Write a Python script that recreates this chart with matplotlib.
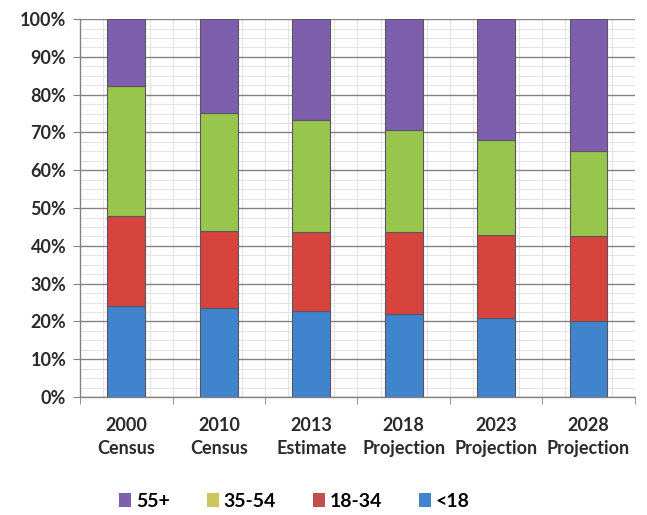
import numpy as np
import matplotlib.pyplot as plt
from matplotlib.patches import Patch
from matplotlib.ticker import FixedLocator, PercentFormatter

plt.rcParams['font.family'] = ['Lato', 'DejaVu Sans']

categories = ['2000\nCensus', '2010\nCensus', '2013\nEstimate',
              '2018\nProjection', '2023\nProjection', '2028\nProjection']

# share of population by age group, percent
under_18 = [24.0, 23.6, 22.7, 22.0, 21.0, 20.2]
age_18_34 = [23.9, 20.3, 21.0, 21.6, 21.9, 22.4]
age_35_54 = [34.4, 31.3, 29.7, 27.0, 25.1, 22.5]
age_55_up = [17.7, 24.8, 26.6, 29.4, 32.0, 34.9]

series = [('<18', under_18, '#3f84cc', '#3f84cc'),
          ('18-34', age_18_34, '#d6443d', '#c24e4e'),
          ('35-54', age_35_54, '#98c64c', '#cbc65e'),
          ('55+', age_55_up, '#7d5fae', '#7d5fae')]

fig = plt.figure(figsize=(6.47, 5.15), dpi=100)
ax = fig.add_axes([0.124, 0.229, 0.857, 0.734])

x = np.arange(len(categories))
bottom = np.zeros(len(categories))
for name, vals, col, _ in series:
    ax.bar(x, vals, width=0.41, bottom=bottom, color=col,
           edgecolor='#5a5560', linewidth=0.8, zorder=3)
    bottom += np.array(vals)

ax.set_xlim(-0.5, len(categories) - 0.5)
ax.set_ylim(0, 100)
ax.yaxis.set_major_locator(FixedLocator(np.arange(0, 101, 10)))
ax.yaxis.set_major_formatter(PercentFormatter(decimals=0))
ax.yaxis.set_minor_locator(FixedLocator(np.arange(0, 101, 2.5)))

ax.set_xticks(x)
ax.set_xticklabels(categories, fontsize=13, fontweight='bold', color='#2a2a2a',
                   linespacing=1.45)
ax.set_xticks(np.arange(-0.5, len(categories), 1), minor=True)
ax.tick_params(axis='x', which='major', length=0, pad=14)
ax.tick_params(axis='x', which='minor', length=5, color='#8a8080')
ax.tick_params(axis='y', which='major', length=5, color='#8a8080',
               labelsize=13, pad=5)
ax.tick_params(axis='y', which='minor', length=0)
for lab in ax.get_yticklabels():
    lab.set_fontweight('bold')
    lab.set_color('#2a2a2a')

ax.grid(axis='y', which='major', color='#8a8080', linewidth=1.0, zorder=1)
ax.grid(axis='y', which='minor', color='#e4e4e4', linewidth=0.8, zorder=0)
for xv in np.arange(-0.5, len(categories), 0.25):
    ax.axvline(xv, color='#e4e4e4', linewidth=0.8, zorder=0)

for side in ['top', 'right']:
    ax.spines[side].set_visible(False)
for side in ['left', 'bottom']:
    ax.spines[side].set_color('#8a8080')
    ax.spines[side].set_linewidth(1.0)

handles = [Patch(facecolor=lc, edgecolor='none', label=name)
           for name, _, _, lc in series[::-1]]
fig.legend(handles=handles, loc='center', bbox_to_anchor=(0.455, 0.027),
           ncol=4, frameon=False, handlelength=0.62, handleheight=0.7,
           handletextpad=0.25, columnspacing=1.9,
           prop={'weight': 'bold', 'size': 14})

fig.savefig('out.png', dpi=100, facecolor='white')
